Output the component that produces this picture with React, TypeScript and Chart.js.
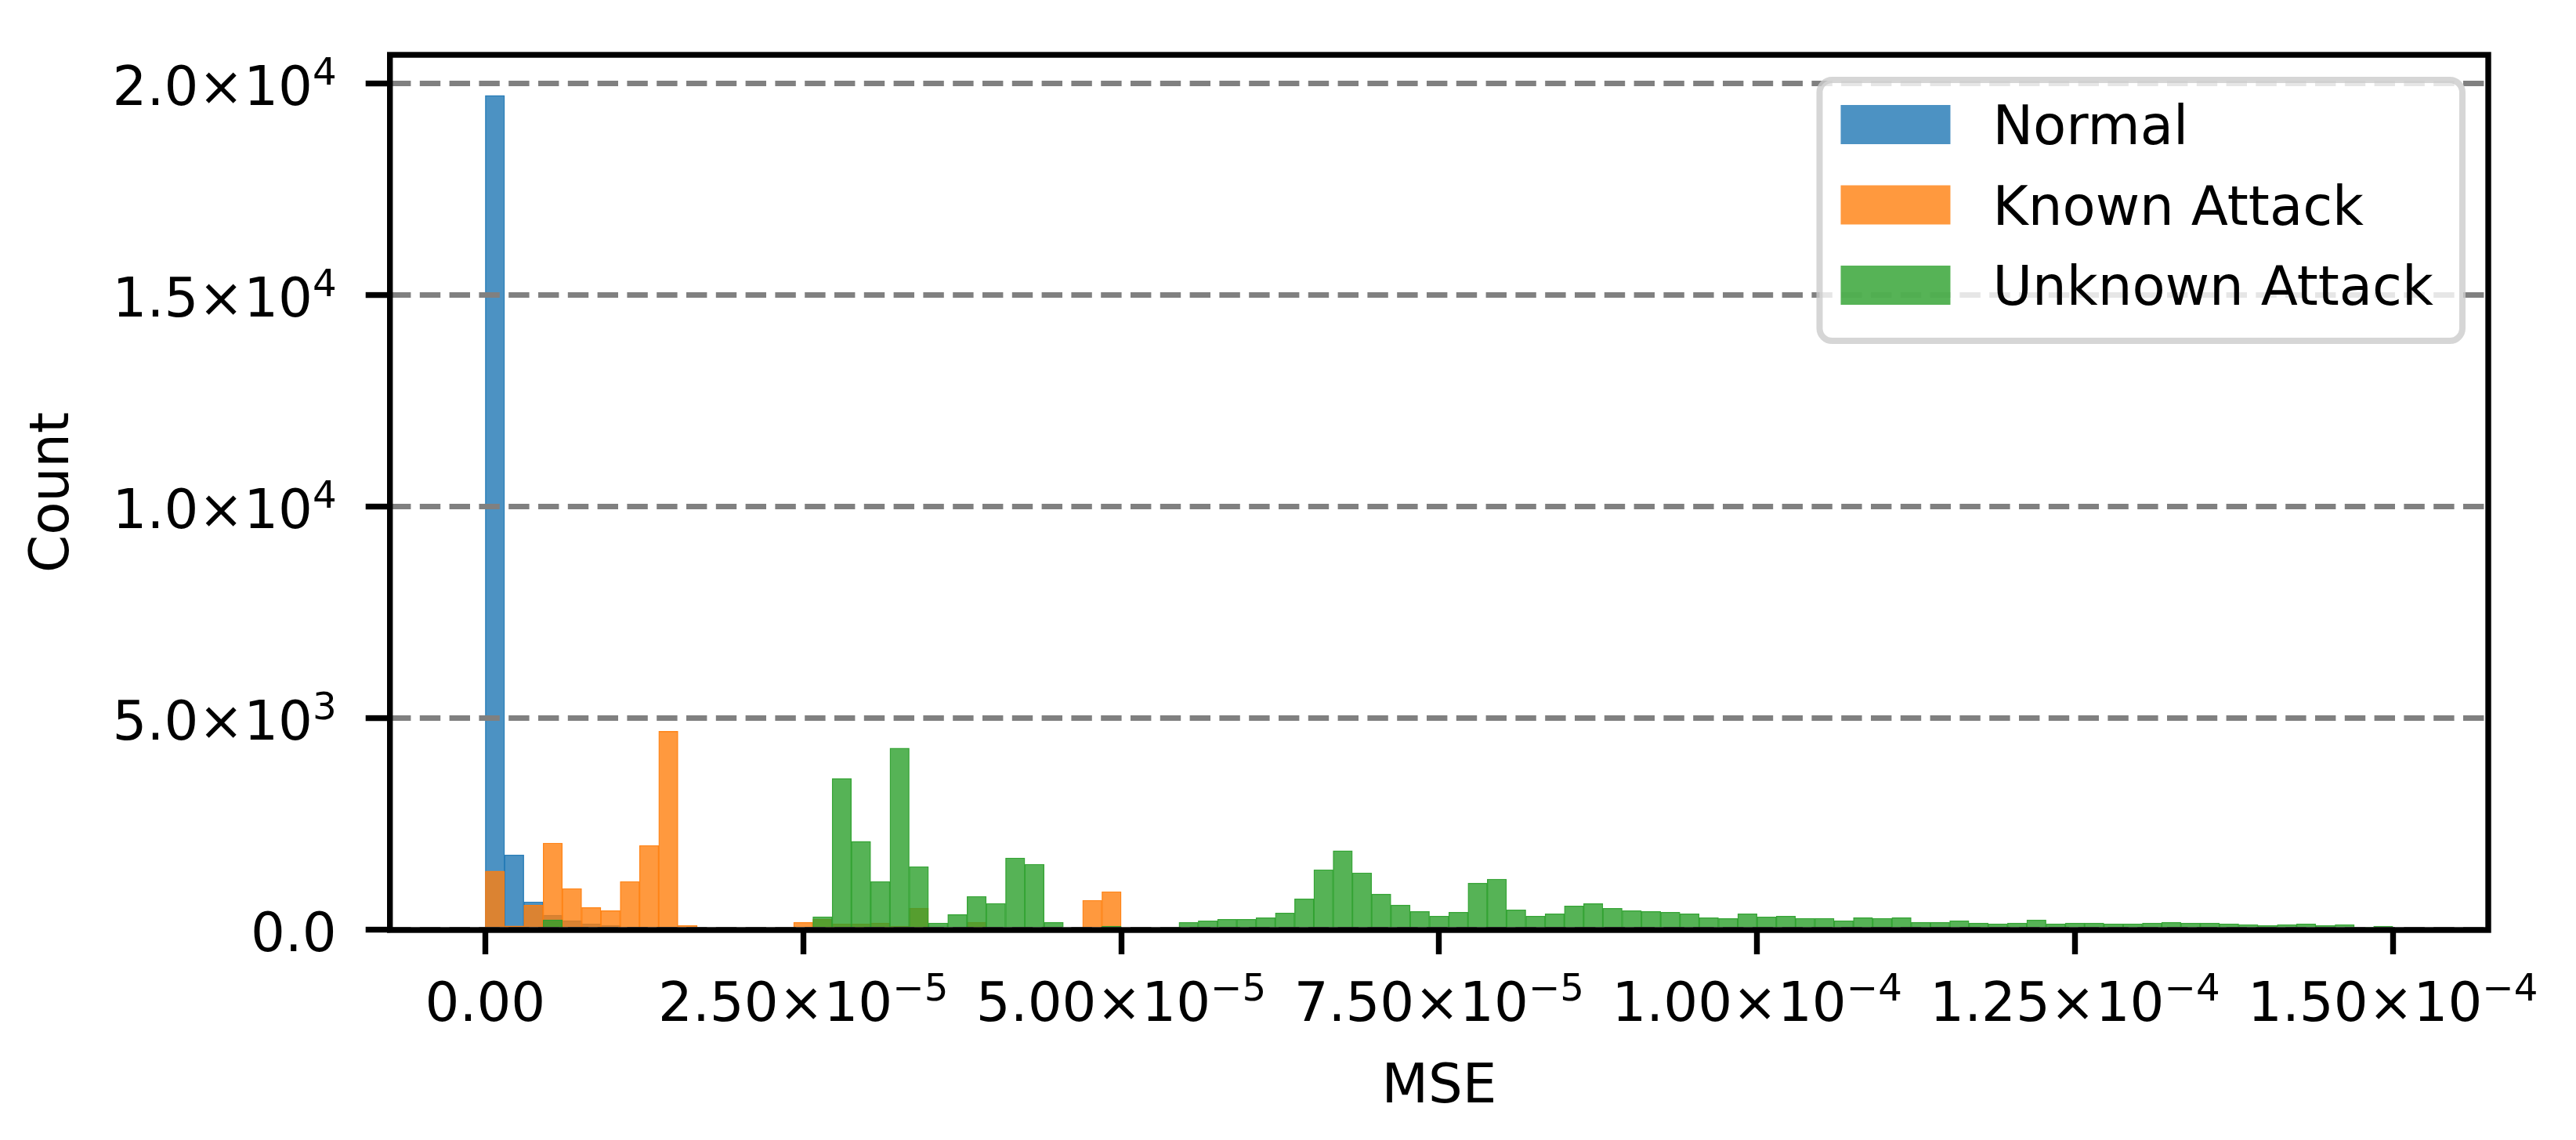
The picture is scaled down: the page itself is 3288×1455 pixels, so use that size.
import React, { useEffect, useRef } from 'react';
import { Chart, registerables } from 'chart.js';

Chart.register(...registerables);

// ---- data -------------------------------------------------------------
// Histogram bins: 99 equal bins spanning MSE 0 .. 1.5e-4
const BIN_COUNT = 99;
const BIN_RANGE_MAX = 1.5e-4;
const BIN_WIDTH = BIN_RANGE_MAX / BIN_COUNT;
const BIN_CENTERS = Array.from({ length: BIN_COUNT }, (_, i) => (i + 0.5) * BIN_WIDTH);

const SERIES_LABELS = ['Normal', 'Known Attack', 'Unknown Attack'];

const NORMAL_COUNTS = [
  19720, 1775, 665, 350, 220, 145, 108, 0, 0, 0,
  0, 0, 0, 0, 0, 0, 0, 0, 0, 0,
  0, 0, 0, 0, 0, 0, 0, 0, 0, 0,
  0, 0, 0, 0, 0, 0, 0, 0, 0, 0,
  0, 0, 0, 0, 0, 0, 0, 0, 0, 0,
  0, 0, 0, 0, 0, 0, 0, 0, 0, 0,
  0, 0, 0, 0, 0, 0, 0, 0, 0, 0,
  0, 0, 0, 0, 0, 0, 0, 0, 0, 0,
  0, 0, 0, 0, 0, 0, 0, 0, 0, 0,
  0, 0, 0, 0, 0, 0, 0, 0, 0,
];

const KNOWN_ATTACK_COUNTS = [
  1390, 95, 590, 2055, 980, 535, 460, 1147, 2000, 4695,
  108, 0, 0, 0, 0, 0, 183, 257, 146, 146,
  165, 93, 516, 0, 0, 183, 0, 0, 0, 0,
  0, 702, 906, 0, 0, 0, 0, 0, 0, 0,
  0, 0, 0, 0, 0, 0, 0, 0, 0, 0,
  0, 0, 0, 0, 0, 0, 0, 0, 0, 0,
  0, 0, 0, 0, 0, 0, 0, 0, 0, 0,
  0, 0, 0, 0, 0, 0, 0, 0, 0, 0,
  0, 0, 0, 0, 0, 0, 0, 0, 0, 0,
  0, 0, 0, 0, 0, 0, 0, 0, 0,
];

const UNKNOWN_ATTACK_COUNTS = [
  0, 0, 0, 240, 0, 0, 0, 0, 0, 0,
  0, 0, 0, 0, 0, 0, 0, 313, 3580, 2094,
  1147, 4300, 1499, 165, 368, 795, 628, 1704, 1555, 183,
  0, 0, 93, 0, 0, 0, 180, 217, 254, 254,
  291, 403, 737, 1425, 1871, 1351, 849, 589, 440, 328,
  421, 1109, 1202, 477, 328, 384, 570, 626, 514, 458,
  440, 421, 384, 291, 273, 384, 310, 328, 276, 276,
  220, 294, 276, 294, 183, 183, 220, 164, 146, 164,
  238, 146, 164, 164, 146, 146, 164, 183, 164, 164,
  146, 128, 108, 128, 146, 108, 128, 30, 90,
];

// Tick values and labels (mantissa part + superscript exponent part)
const X_TICKS = [0, 2.5e-5, 5e-5, 7.5e-5, 1e-4, 1.25e-4, 1.5e-4];
const X_TICK_BASES = ['0.00', '2.50×10', '5.00×10', '7.50×10', '1.00×10', '1.25×10', '1.50×10'];
const X_TICK_EXPONENTS = ['', '−5', '−5', '−5', '−4', '−4', '−4'];
const Y_TICKS = [0, 5000, 10000, 15000, 20000];
const Y_TICK_BASES = ['0.0', '5.0×10', '1.0×10', '1.5×10', '2.0×10'];
const Y_TICK_EXPONENTS = ['', '3', '4', '4', '4'];

const X_MIN = -0.75e-5;
const X_MAX = 15.75e-5;
const Y_MIN = 0;
const Y_MAX = 20680;

// ---- style ------------------------------------------------------------
const FONT_FAMILY = "'DejaVu Sans'";
const FONT_SIZE = 69;
const SUP_SIZE = 48.3;
const SUP_RAISE = 26;
const FILL_COLORS = ['rgba(31,119,180,0.8)', 'rgba(255,127,14,0.8)', 'rgba(44,160,44,0.8)'];
const EDGE_COLORS = ['rgba(31,119,180,0.92)', 'rgba(255,127,14,0.92)', 'rgba(44,160,44,0.92)'];
const SPINE_WIDTH = 7.4;

function drawMathLabel(ctx: CanvasRenderingContext2D, base: string, sup: string, x: number, baseline: number, align: 'center' | 'right') {
  ctx.font = `${FONT_SIZE}px ${FONT_FAMILY}`;
  const wb = ctx.measureText(base).width;
  ctx.font = `${SUP_SIZE}px ${FONT_FAMILY}`;
  const ws = sup ? ctx.measureText(sup).width : 0;
  const total = wb + ws;
  const left = align === 'center' ? x - total / 2 : x - total;
  ctx.textAlign = 'left';
  ctx.textBaseline = 'alphabetic';
  ctx.fillStyle = '#000000';
  ctx.font = `${FONT_SIZE}px ${FONT_FAMILY}`;
  ctx.fillText(base, left, baseline);
  if (sup) {
    ctx.font = `${SUP_SIZE}px ${FONT_FAMILY}`;
    ctx.fillText(sup, left + wb, baseline - SUP_RAISE);
  }
}

const tickLabelPlugin = {
  id: 'mathTickLabels',
  afterDraw(chart: any) {
    const { ctx, chartArea: a, scales } = chart;
    ctx.save();
    X_TICKS.forEach((v, i) => {
      const px = scales.x.getPixelForValue(v);
      drawMathLabel(ctx, X_TICK_BASES[i], X_TICK_EXPONENTS[i], px, a.bottom + 116, 'center');
    });
    Y_TICKS.forEach((v, i) => {
      const py = scales.y.getPixelForValue(v);
      drawMathLabel(ctx, Y_TICK_BASES[i], Y_TICK_EXPONENTS[i], a.left - 68, py + 27, 'right');
    });
    ctx.restore();
  },
};

const framePlugin = {
  id: 'mplFrame',
  afterDraw(chart: any) {
    const { ctx, chartArea: a } = chart;
    ctx.save();
    ctx.strokeStyle = '#000000';
    ctx.lineWidth = SPINE_WIDTH;
    ctx.lineJoin = 'miter';
    ctx.strokeRect(a.left, a.top, a.right - a.left, a.bottom - a.top);
    ctx.restore();
  },
};

const legendPlugin = {
  id: 'mplLegend',
  afterDraw(chart: any) {
    const { ctx, chartArea: a } = chart;
    const datasets = chart.data.datasets;
    ctx.save();
    ctx.font = `${FONT_SIZE}px ${FONT_FAMILY}`;
    const maxText = Math.max(...datasets.map((d: any) => ctx.measureText(d.label).width));
    const swatchX = 27;
    const swatchW = 140;
    const swatchH = 50;
    const textX = 221;
    const boxW = textX + maxText + 37;
    const firstRow = 57;
    const rowStep = 102.5;
    const boxH = firstRow + rowStep * (datasets.length - 1) + 71;
    const x0 = a.right - 33 - boxW;
    const y0 = a.top + 32;

    ctx.beginPath();
    (ctx as any).roundRect(x0, y0, boxW, boxH, 16);
    ctx.fillStyle = 'rgba(255,255,255,0.8)';
    ctx.fill();
    ctx.lineWidth = 8;
    ctx.strokeStyle = 'rgba(204,204,204,0.8)';
    ctx.stroke();

    datasets.forEach((d: any, i: number) => {
      const cy = y0 + firstRow + i * rowStep;
      ctx.fillStyle = d.backgroundColor;
      ctx.fillRect(x0 + swatchX, cy - swatchH / 2, swatchW, swatchH);
      ctx.fillStyle = '#000000';
      ctx.textBaseline = 'alphabetic';
      ctx.textAlign = 'left';
      ctx.fillText(d.label, x0 + textX, cy + 25);
    });
    ctx.restore();
  },
};

export default function App() {
  const canvasRef = useRef<HTMLCanvasElement | null>(null);

  useEffect(() => {
    const canvas = canvasRef.current;
    if (!canvas) return;
    Chart.defaults.font.family = FONT_FAMILY;
    Chart.defaults.font.size = FONT_SIZE;
    Chart.defaults.color = '#000000';

    const seriesData = [NORMAL_COUNTS, KNOWN_ATTACK_COUNTS, UNKNOWN_ATTACK_COUNTS];
    const chart = new Chart(canvas, {
      type: 'bar',
      data: {
        labels: BIN_CENTERS,
        datasets: seriesData.map((data, i) => ({
          label: SERIES_LABELS[i],
          data,
          backgroundColor: FILL_COLORS[i],
          borderColor: EDGE_COLORS[i],
          borderWidth: { top: 0.7, left: 0.7, right: 0.7, bottom: 0 },
          borderSkipped: 'start',
          grouped: false,
          barPercentage: 1,
          categoryPercentage: 1,
          order: seriesData.length - i,
        })),
      },
      options: {
        responsive: false,
        animation: false,
        devicePixelRatio: 1,
        events: [],
        layout: { padding: { left: 0, top: 70, right: 112, bottom: 20 } },
        plugins: {
          legend: { display: false },
          tooltip: { enabled: false },
        },
        scales: {
          x: {
            type: 'linear',
            min: X_MIN,
            max: X_MAX,
            offset: false,
            afterBuildTicks: (scale: any) => {
              scale.ticks = X_TICKS.map((v) => ({ value: v }));
            },
            afterFit: (scale: any) => {
              scale.height = 248;
            },
            grid: {
              display: true,
              offset: false,
              drawOnChartArea: false,
              drawTicks: true,
              tickLength: 31,
              tickWidth: SPINE_WIDTH,
              tickColor: '#000000',
            },
            border: { display: false },
            ticks: { display: false },
            title: {
              display: true,
              text: 'MSE',
              color: '#000000',
              font: { family: FONT_FAMILY, size: FONT_SIZE },
              padding: { top: 0, bottom: 4.6 },
            },
          },
          y: {
            type: 'linear',
            min: Y_MIN,
            max: Y_MAX,
            afterBuildTicks: (scale: any) => {
              scale.ticks = Y_TICKS.map((v) => ({ value: v }));
            },
            afterFit: (scale: any) => {
              scale.width = 497.7;
            },
            grid: {
              display: true,
              z: 1,
              color: '#808080',
              lineWidth: 7.1,
              drawTicks: true,
              tickLength: 31,
              tickWidth: SPINE_WIDTH,
              tickColor: '#000000',
            },
            border: { display: false, dash: [26.4, 11.4] },
            ticks: { display: false },
            title: {
              display: true,
              text: 'Count',
              color: '#000000',
              font: { family: FONT_FAMILY, size: FONT_SIZE },
              padding: { top: 27.6, bottom: 0 },
            },
          },
        },
      } as any,
      plugins: [framePlugin, tickLabelPlugin, legendPlugin],
    });

    return () => {
      chart.destroy();
    };
  }, []);

  return (
    <div style={{ position: 'fixed', left: 0, top: 0, width: 3288, height: 1455, background: '#ffffff' }}>
      <canvas
        ref={canvasRef}
        width={3288}
        height={1455}
        style={{ display: 'block', width: 3288, height: 1455 }}
      />
    </div>
  );
}
